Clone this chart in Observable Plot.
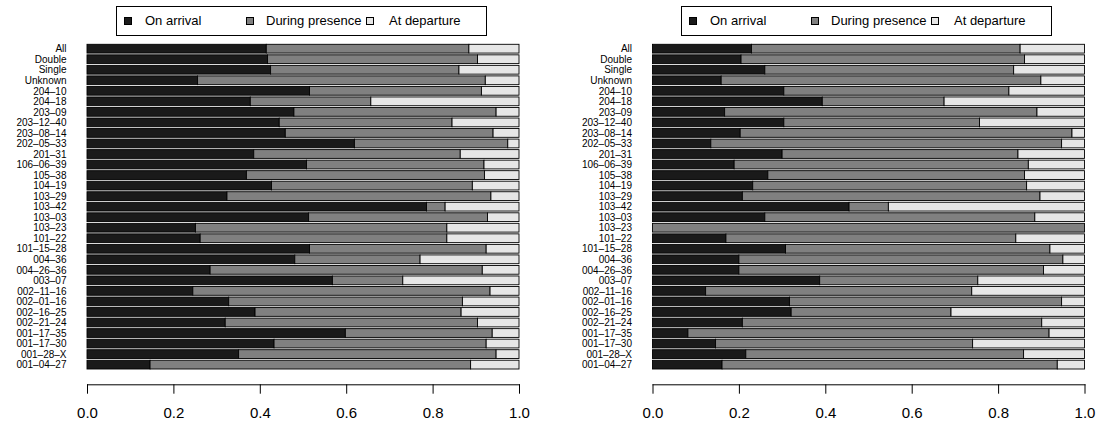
<!DOCTYPE html>
<html>
<head>
<meta charset="utf-8">
<script src="https://cdn.jsdelivr.net/npm/d3@7"></script>
<script src="https://cdn.jsdelivr.net/npm/@observablehq/plot@0.6"></script>
<style>
  body { margin: 0; background: #fff; font-family: "Liberation Sans", Arial, Helvetica, sans-serif; }
  #wrap { display: flex; width: 1103px; height: 428px; }
  .panel { position: relative; }
  .legend { position: relative; height: 40px; }
  .lbox { position: absolute; left: 116px; top: 6px; width: 371px; height: 30px; box-sizing: border-box; border: 1px solid #000; }
  .sw { position: absolute; width: 8px; height: 8px; box-sizing: border-box; border: 1px solid #000; top: 10px; }
  .lt { position: absolute; top: 6px; font-size: 13px; line-height: 16px; color: #000; white-space: nowrap; }
  svg { display: block; }
</style>
</head>
<body>
<div id="wrap"></div>
<script>
const categories = ["All","Double","Single","Unknown","204–10","204–18","203–09","203–12–40","203–08–14","202–05–33",
  "201–31","106–06–39","105–38","104–19","103–29","103–42","103–03","103–23","101–22","101–15–28",
  "004–36","004–26–36","003–07","002–11–16","002–01–16","002–16–25","002–21–24","001–17–35","001–17–30","001–28–X","001–04–27"];
const seriesNames = ["On arrival","During presence","At departure"];
const seriesColors = ["#1a1a1a","#808080","#e6e6e6"];
const xTicks = [0, 0.2, 0.4, 0.6, 0.8, 1.0];

// Left panel
const arrivalA  = [0.415,0.418,0.425,0.256,0.515,0.378,0.479,0.445,0.459,0.619,0.386,0.508,0.369,0.427,0.324,0.786,0.513,0.251,0.262,0.515,0.481,0.285,0.568,0.245,0.328,0.389,0.320,0.598,0.433,0.351,0.146];
const presenceA = [0.469,0.486,0.436,0.666,0.398,0.279,0.468,0.400,0.481,0.355,0.478,0.411,0.551,0.465,0.611,0.043,0.414,0.582,0.571,0.409,0.290,0.630,0.163,0.688,0.541,0.477,0.584,0.340,0.491,0.596,0.742];
const departA   = [0.116,0.096,0.139,0.078,0.087,0.343,0.053,0.155,0.060,0.026,0.136,0.081,0.080,0.108,0.065,0.171,0.073,0.167,0.167,0.076,0.229,0.085,0.269,0.067,0.131,0.134,0.096,0.062,0.076,0.053,0.112];

// Right panel
const arrivalB  = [0.229,0.205,0.260,0.159,0.304,0.393,0.167,0.304,0.203,0.135,0.300,0.189,0.267,0.232,0.208,0.455,0.260,0.000,0.170,0.308,0.200,0.200,0.387,0.123,0.317,0.321,0.208,0.082,0.146,0.216,0.161];
const presenceB = [0.622,0.656,0.576,0.740,0.521,0.282,0.723,0.453,0.768,0.812,0.546,0.681,0.594,0.634,0.689,0.091,0.625,1.000,0.671,0.612,0.750,0.705,0.366,0.616,0.630,0.370,0.693,0.836,0.595,0.643,0.776];
const departB   = [0.149,0.139,0.164,0.101,0.175,0.325,0.110,0.243,0.029,0.053,0.154,0.130,0.139,0.134,0.103,0.454,0.115,0.000,0.159,0.080,0.050,0.095,0.247,0.261,0.053,0.309,0.099,0.082,0.259,0.141,0.063];

function makeLegend() {
  const lg = document.createElement("div");
  lg.className = "legend";
  const box = document.createElement("div");
  box.className = "lbox";
  const swLeft = [7, 129, 249];
  const txLeft = [28, 149, 272];
  seriesNames.forEach((s, i) => {
    const sw = document.createElement("div");
    sw.className = "sw";
    sw.style.left = swLeft[i] + "px";
    sw.style.background = seriesColors[i];
    box.appendChild(sw);
    const t = document.createElement("div");
    t.className = "lt";
    t.style.left = txLeft[i] + "px";
    t.textContent = s;
    box.appendChild(t);
  });
  lg.appendChild(box);
  return lg;
}

function makePanel(width, x0, arr, pres, dep) {
  const data = [];
  categories.forEach((c, i) => {
    data.push({cat: c, series: seriesNames[0], v: arr[i]});
    data.push({cat: c, series: seriesNames[1], v: pres[i]});
    data.push({cat: c, series: seriesNames[2], v: dep[i]});
  });
  const x1 = x0 + 432;
  return Plot.plot({
    width: width,
    height: 388,
    marginLeft: x0,
    marginRight: width - x1,
    marginTop: 0,
    marginBottom: 43.7,
    style: {fontFamily: '"Liberation Sans", Arial, Helvetica, sans-serif', fontSize: "10px", color: "#000", background: "#fff"},
    x: {domain: [0, 1], range: [x0, x1]},
    y: {domain: categories, range: [4.3, 329], paddingInner: 0.167, paddingOuter: 0, round: false},
    color: {domain: seriesNames, range: seriesColors},
    marks: [
      Plot.barX(data, {x: "v", y: "cat", fill: "series", stroke: "#000", strokeWidth: 0.9, order: seriesNames}),
      Plot.axisY({tickSize: 0, tickPadding: 21, fontSize: 10, label: null}),
      Plot.axisX({ticks: xTicks, tickFormat: d3.format(".1f"), tickSize: 9.4, tickPadding: 13, fontSize: 15, label: null, strokeWidth: 1}),
      Plot.frame({anchor: "bottom", strokeWidth: 1})
    ]
  });
}

const wrap = document.getElementById("wrap");
[[565, 87, arrivalA, presenceA, departA], [538, 87.5, arrivalB, presenceB, departB]].forEach(([w, x0, a, p, d]) => {
  const pn = document.createElement("div");
  pn.className = "panel";
  pn.style.width = w + "px";
  pn.appendChild(makeLegend());
  pn.appendChild(makePanel(w, x0, a, p, d));
  wrap.appendChild(pn);
});
</script>
</body>
</html>
